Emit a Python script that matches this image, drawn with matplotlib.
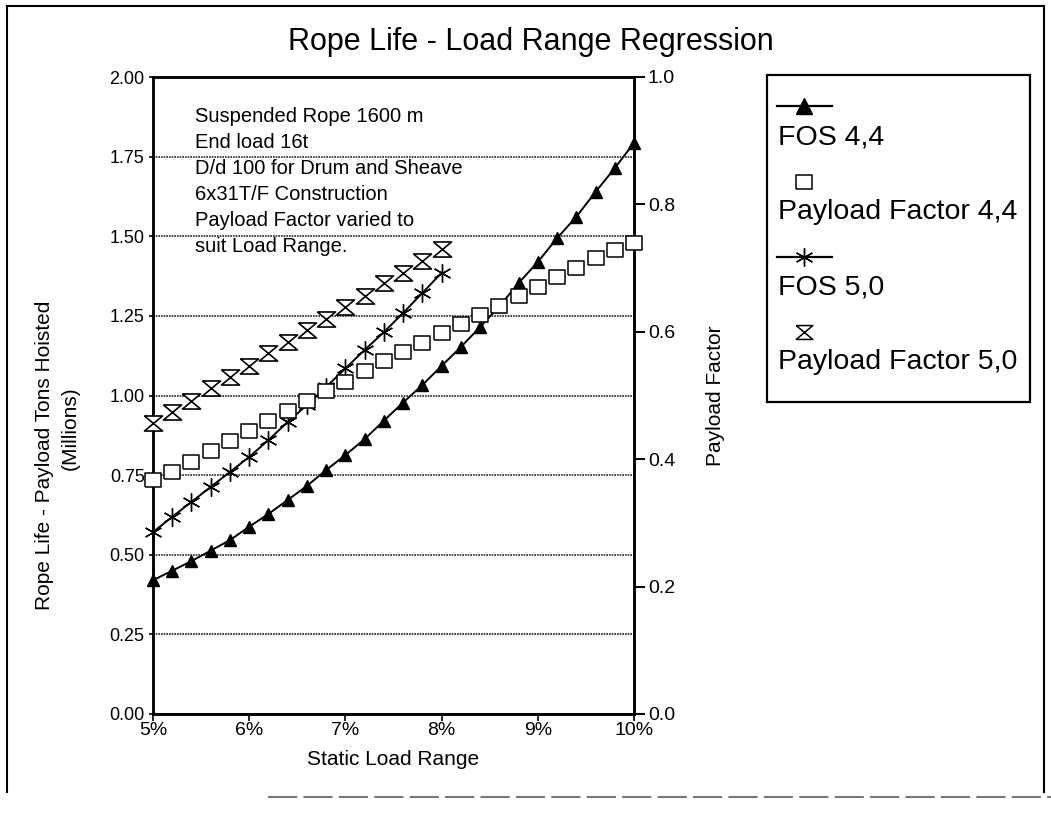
import matplotlib
matplotlib.use("Agg")
import matplotlib.pyplot as plt
from matplotlib.lines import Line2D
from matplotlib.patches import Rectangle
from matplotlib.ticker import FuncFormatter, MultipleLocator

plt.rcParams['font.family'] = ['Liberation Sans', 'DejaVu Sans']

# Static load range (%), 0.2 % steps
load_range_44 = [5.0, 5.2, 5.4, 5.6, 5.8, 6.0, 6.2, 6.4, 6.6, 6.8, 7.0, 7.2, 7.4,
                 7.6, 7.8, 8.0, 8.2, 8.4, 8.6, 8.8, 9.0, 9.2, 9.4, 9.6, 9.8, 10.0]
load_range_50 = [5.0, 5.2, 5.4, 5.6, 5.8, 6.0, 6.2, 6.4, 6.6, 6.8, 7.0, 7.2, 7.4,
                 7.6, 7.8, 8.0]

# Rope life, payload tons hoisted (millions)
fos_44 = [0.420, 0.450, 0.480, 0.513, 0.546, 0.588, 0.628, 0.672, 0.716, 0.766,
          0.813, 0.863, 0.921, 0.978, 1.033, 1.093, 1.152, 1.215, 1.280, 1.353,
          1.419, 1.494, 1.561, 1.639, 1.714, 1.793]
fos_50 = [0.571, 0.619, 0.666, 0.713, 0.760, 0.807, 0.860, 0.917, 0.970, 1.027,
          1.085, 1.143, 1.199, 1.259, 1.322, 1.385]

# Payload factor (right axis)
pf_44 = [0.368, 0.380, 0.396, 0.413, 0.429, 0.445, 0.460, 0.476, 0.492, 0.507,
         0.521, 0.539, 0.554, 0.569, 0.583, 0.598, 0.613, 0.627, 0.641, 0.656,
         0.671, 0.686, 0.700, 0.716, 0.729, 0.740]
pf_50 = [0.457, 0.474, 0.492, 0.512, 0.529, 0.547, 0.567, 0.584, 0.603, 0.620,
         0.639, 0.656, 0.677, 0.693, 0.711, 0.730]

series_labels = ['FOS 4,4', 'Payload Factor 4,4', 'FOS 5,0', 'Payload Factor 5,0']
notes = ['Suspended Rope 1600 m', 'End load 16t', 'D/d 100 for Drum and Sheave',
         '6x31T/F Construction', 'Payload Factor varied to', 'suit Load Range.']

W, H = 1051, 815
fig = plt.figure(figsize=(W / 100, H / 100), dpi=100)

def fx(px):
    return px / W

def fy(py):
    return 1 - py / H

# marker shapes
box_marker = [(-1.2, -1), (1.2, -1), (1.2, 1), (-1.2, 1), (-1.2, -1)]
hourglass = [(-1.2, 1), (1.2, 1), (-1.2, -1), (1.2, -1), (-1.2, 1)]
asterisk = (6, 2, 0)

ax = fig.add_axes([fx(153), fy(714), fx(634) - fx(153), fy(77) - fy(714)])
ax2 = ax.twinx()

ax.set_xlim(5, 10)
ax.set_ylim(0, 2)
ax2.set_ylim(0, 1)

ax.plot(load_range_44, fos_44, color='black', lw=1.4, marker='^', ms=9,
        mfc='black', mec='black', clip_on=False, zorder=5)
ax.plot(load_range_50, fos_50, color='black', lw=1.4, marker=asterisk, ms=13,
        mew=1.0, mec='black', clip_on=False, zorder=5)
ax2.plot(load_range_44, pf_44, ls='none', marker=box_marker, ms=12,
         mfc='white', mec='black', mew=1.1, clip_on=False, zorder=4)
ax2.plot(load_range_50, pf_50, ls='none', marker=hourglass, ms=13,
         mfc='white', mec='black', mew=1.2, clip_on=False, zorder=4)

# dotted horizontal grid
ax.yaxis.set_major_locator(MultipleLocator(0.25))
ax.yaxis.grid(True, linestyle=(0, (1, 0.6)), color='#222222', lw=1.2)
ax.set_axisbelow(True)
ax.xaxis.grid(False)

ax.xaxis.set_major_locator(MultipleLocator(1))
ax.xaxis.set_major_formatter(FuncFormatter(lambda v, p: f'{v:.0f}%'))
ax.yaxis.set_major_formatter(FuncFormatter(lambda v, p: f'{v:.2f}'))
ax2.yaxis.set_major_locator(MultipleLocator(0.2))
ax2.yaxis.set_major_formatter(FuncFormatter(lambda v, p: f'{v:.1f}'))

ax.tick_params(axis='x', direction='out', length=5, width=1.2, labelsize=14, pad=1)
ax.tick_params(axis='y', direction='out', length=3, width=1.2, labelsize=13, pad=3)
ax2.tick_params(axis='y', direction='out', length=8, width=1.4, labelsize=14, pad=2)

for a in (ax, ax2):
    for s in a.spines.values():
        s.set_linewidth(1.8)
        s.set_color('black')

ax.set_xlabel('Static Load Range', fontsize=15, labelpad=8)
ax2.set_ylabel('Payload Factor', fontsize=15, labelpad=22)

# left axis title, two centred lines
fig.text(fx(45), fy(455), 'Rope Life - Payload Tons Hoisted', fontsize=15,
         rotation=90, ha='center', va='center')
fig.text(fx(70), fy(428), '(Millions)', fontsize=15, rotation=90,
         ha='center', va='center')

# title
fig.text(0.505, fy(42), 'Rope Life - Load Range Regression', fontsize=22,
         ha='center', va='center')

# notes block
for i, line in enumerate(notes):
    fig.text(fx(195), fy(117 + 26 * i), line, fontsize=14.5, ha='left',
             va='center')

# legend panel
fig.add_artist(Rectangle((fx(767), fy(402)), fx(1030) - fx(767), fy(75) - fy(402),
                         transform=fig.transFigure, fill=False, lw=1.6,
                         edgecolor='black'))
handle_y = [106, 182, 257, 332]
text_y = [137, 212, 287, 362]
styles = [
    dict(ls='-', marker='^', ms=11, mfc='black', mec='black'),
    dict(ls='none', marker=box_marker, ms=12, mfc='white', mec='black', mew=1.1),
    dict(ls='-', marker=asterisk, ms=13, mec='black', mew=1.0),
    dict(ls='none', marker=hourglass, ms=12, mfc='white', mec='black', mew=1.1),
]
for hy, ty, lab, st in zip(handle_y, text_y, series_labels, styles):
    if st['ls'] == '-':
        fig.add_artist(Line2D([fx(777), fx(832)], [fy(hy), fy(hy)],
                              transform=fig.transFigure, color='black', lw=1.6))
    fig.add_artist(Line2D([fx(804)], [fy(hy)], transform=fig.transFigure,
                          color='black', **{k: v for k, v in st.items() if k != 'ls'},
                          ls='none'))
    fig.text(fx(778), fy(ty), lab, fontsize=20.5, ha='left', va='center')

# page frame
fig.add_artist(Line2D([fx(7), fx(7)], [fy(6), fy(792)], transform=fig.transFigure,
                      color='black', lw=1.5))
fig.add_artist(Line2D([fx(7), fx(1044)], [fy(6), fy(6)], transform=fig.transFigure,
                      color='black', lw=1.5))
fig.add_artist(Line2D([fx(1044), fx(1044)], [fy(6), fy(792)], transform=fig.transFigure,
                      color='black', lw=1.5))
fig.add_artist(Line2D([fx(268), fx(1051)], [fy(797), fy(797)], transform=fig.transFigure,
                      color='#777777', lw=1.5, ls=(0, (14, 3))))

fig.savefig('out.png', dpi=100)
